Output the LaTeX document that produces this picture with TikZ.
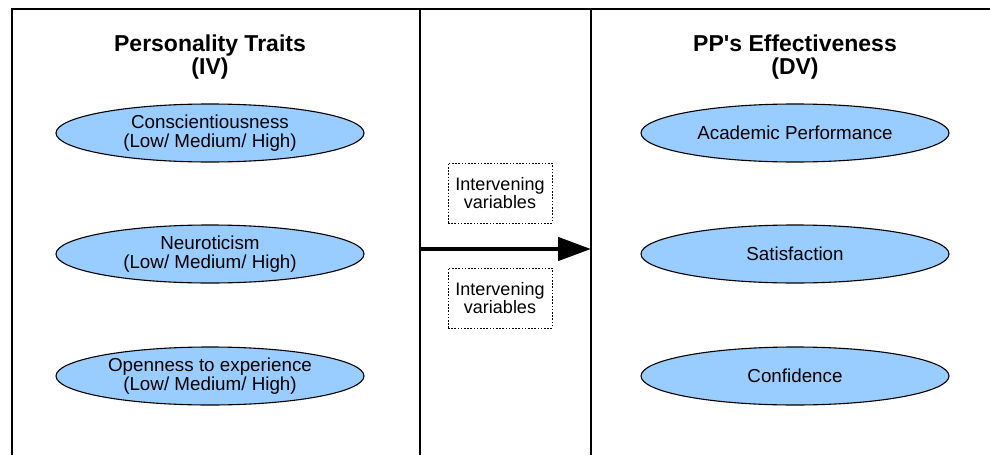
\documentclass[tikz,border=0pt]{standalone}
\usepackage{fontspec}
\setmainfont{Liberation Sans}
\usetikzlibrary{shapes.geometric,arrows.meta}
\definecolor{ellfill}{HTML}{99CCFF}
\begin{document}
\begin{tikzpicture}[x=1pt,y=-1pt,
  frameline/.style={line width=1.3pt,black},
  header/.style={font=\fontsize{23}{23.5}\selectfont\bfseries,align=center,inner sep=0pt},
  varell/.style={ellipse,draw=black,line width=1.1pt,fill=ellfill,minimum width=308pt,minimum height=58pt,inner sep=0pt,align=center,font=\fontsize{18.8}{19.5}\selectfont},
  interbox/.style={draw=black,line width=0.9pt,dash pattern=on 1.6pt off 1.6pt,minimum width=104pt,minimum height=60pt,inner sep=0pt,align=center,font=\fontsize{18}{18.5}\selectfont},
  bigarrow/.style={line width=4.6pt,-{Triangle[length=33pt,width=23pt]}}
]
\useasboundingbox (0,0) rectangle (990,455);
% frame
\coordinate (fbl) at (12,455);
\coordinate (ftl) at (12,9);
\coordinate (ftr) at (990,9);
\coordinate (s1t) at (420,9);
\coordinate (s1b) at (420,455);
\coordinate (s2t) at (591,9);
\coordinate (s2b) at (591,455);
\draw[frameline] (fbl) -- (ftl) -- (ftr);
\draw[frameline] (s1t) -- (s1b);
\draw[frameline] (s2t) -- (s2b);
% headers
\node[header] (hiv) at (210,57) {Personality Traits\\(IV)};
\node[header] (hdv) at (795,57) {PP\textquotesingle s Effectiveness\\(DV)};
% left ellipses
\node[varell] (consc) at (210,133) {Conscientiousness\\(Low/ Medium/ High)};
\node[varell] (neuro) at (210,254) {Neuroticism\\(Low/ Medium/ High)};
\node[varell] (open) at (210,376) {Openness to experience\\(Low/ Medium/ High)};
% right ellipses
\node[varell] (acad) at (795,133) {Academic Performance};
\node[varell] (satis) at (795,254) {Satisfaction};
\node[varell] (conf) at (795,376) {Confidence};
% intervening boxes
\node[interbox] (iv1) at (500,193) {Intervening\\variables};
\node[interbox] (iv2) at (500,298) {Intervening\\variables};
% arrow
\coordinate (astart) at (420,249);
\coordinate (aend) at (591,249);
\draw[bigarrow] (astart) -- (aend);
\end{tikzpicture}
\end{document}
